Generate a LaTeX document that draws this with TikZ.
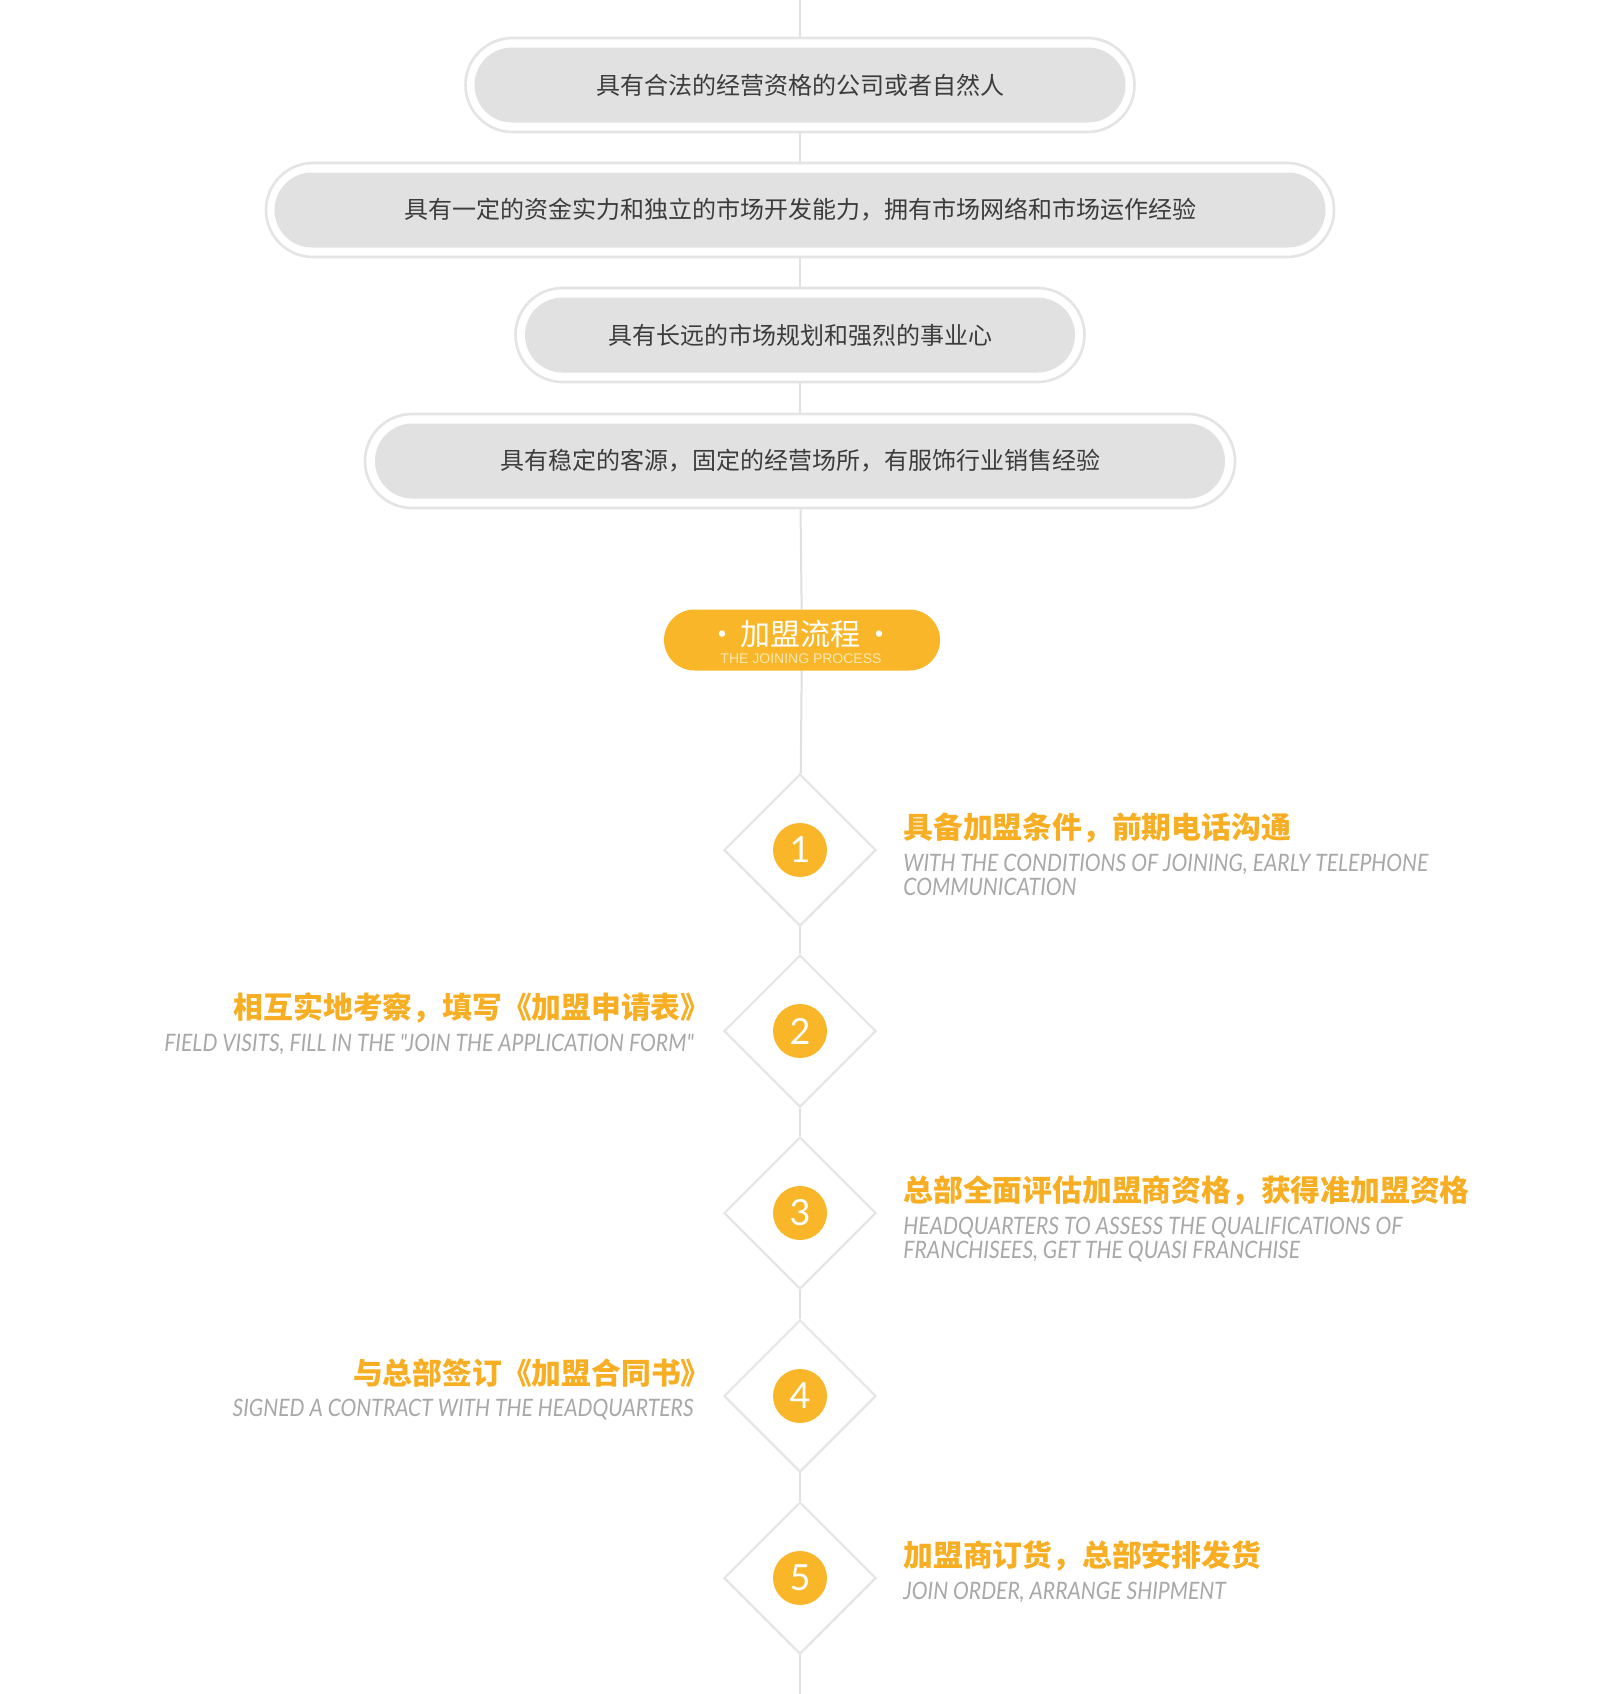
\documentclass[tikz,border=0pt]{standalone}
\usepackage{fontspec}
\setmainfont{Liberation Sans}
\newfontfamily\cjk{Noto Sans CJK SC}
\newfontfamily\enit[FakeStretch=0.88]{Lato}
\newfontfamily\numf{Lato}
\usetikzlibrary{shapes.geometric,backgrounds}
\definecolor{linegray}{HTML}{E0E0E0}
\definecolor{ringgray}{HTML}{E4E4E4}
\definecolor{pillgray}{HTML}{E1E1E1}
\definecolor{pilltext}{HTML}{3C3C3C}
\definecolor{orangefill}{HTML}{F9B628}
\definecolor{orangetext}{HTML}{F7AE22}
\definecolor{subgray}{HTML}{A8A8A8}
\definecolor{palesub}{HTML}{FDE8B4}
\begin{document}
\begin{tikzpicture}[x=0.5pt,y=-0.5pt,
  spine/.style={draw=linegray, line width=1pt},
  outerpill/.style={draw=ringgray, line width=1.3pt, fill=white, rounded corners=23.5pt, minimum height=47pt, inner sep=0pt},
  innerpill/.style={fill=pillgray, rounded corners=18.75pt, minimum height=37.5pt, inner sep=0pt, text=pilltext, font=\cjk\fontsize{12}{14}\selectfont},
  joinpill/.style={fill=orangefill, rounded corners=15.25pt, minimum height=30.5pt, minimum width=138pt, inner sep=0pt},
  stepdiamond/.style={diamond, draw=ringgray, line width=1pt, fill=white, minimum width=76pt, minimum height=76pt, inner sep=0pt},
  stepcircle/.style={circle, fill=orangefill, minimum size=27pt, inner sep=0pt, text=white, font=\numf\fontsize{18}{18}\selectfont},
  steptitle/.style={inner sep=0pt, text=orangetext, font=\cjk\bfseries\fontsize{14.9}{16}\selectfont},
  stepsub/.style={inner sep=0pt, text=subgray, font=\enit\itshape\fontsize{12}{12}\selectfont},
]
\begin{pgfonlayer}{background}
\fill[white] (0,0) rectangle (1600,1694);
\end{pgfonlayer}
\useasboundingbox (0,0) rectangle (1600,1694);

% requirement pills
\node[outerpill, minimum width=334.5pt] (p1) at (800,85) {};
\node[innerpill, minimum width=325.5pt] (q1) at (800,85) {具有合法的经营资格的公司或者自然人};
\node[outerpill, minimum width=534pt] (p2) at (800,210) {};
\node[innerpill, minimum width=525.5pt] (q2) at (800,210) {具有一定的资金实力和独立的市场开发能力，拥有市场网络和市场运作经验};
\node[outerpill, minimum width=284.5pt] (p3) at (800,335) {};
\node[innerpill, minimum width=275pt] (q3) at (800,335) {具有长远的市场规划和强烈的事业心};
\node[outerpill, minimum width=435pt] (p4) at (800,461) {};
\node[innerpill, minimum width=425pt] (q4) at (800,461) {具有稳定的客源，固定的经营场所，有服饰行业销售经验};

% joining process header
\node[joinpill] (join) at (802,640) {};
\node[inner sep=0pt, text=white, font=\cjk\fontsize{15}{16}\selectfont] (jt) at (801,634) {\textbullet\kern2pt 加盟流程\kern2pt\textbullet};
\node[inner sep=0pt, text=palesub, font=\fontsize{7}{8}\selectfont] (js) at (801,659) {THE JOINING PROCESS};

% steps
\foreach \i/\yy in {1/850,2/1031,3/1213,4/1396,5/1578}{
  \node[stepdiamond] (d\i) at (800,\yy) {};
  \node[stepcircle] (c\i) at (800,\yy) {\i};
}

\node[steptitle, anchor=west] (t1) at (903,828) {具备加盟条件，前期电话沟通};
\node[stepsub, anchor=north west, align=left] (s1) at (903,854) {WITH THE CONDITIONS OF JOINING, EARLY TELEPHONE\\COMMUNICATION};

\node[steptitle, anchor=east] (t2) at (711,1008) {相互实地考察，填写《加盟申请表》};
\node[stepsub, anchor=north east, align=right] (s2) at (694,1034) {FIELD VISITS, FILL IN THE "JOIN THE APPLICATION FORM"};

\node[steptitle, anchor=west] (t3) at (903,1191) {总部全面评估加盟商资格，获得准加盟资格};
\node[stepsub, anchor=north west, align=left] (s3) at (903,1217) {HEADQUARTERS TO ASSESS THE QUALIFICATIONS OF\\FRANCHISEES, GET THE QUASI FRANCHISE};

\node[steptitle, anchor=east] (t4) at (711,1373) {与总部签订《加盟合同书》};
\node[stepsub, anchor=north east, align=right] (s4) at (694,1399) {SIGNED A CONTRACT WITH THE HEADQUARTERS};

\node[steptitle, anchor=west] (t5) at (903,1556) {加盟商订货，总部安排发货};
\node[stepsub, anchor=north west, align=left] (s5) at (903,1582) {JOIN ORDER, ARRANGE SHIPMENT};

% spine connectors
\coordinate (top) at (800,0);
\coordinate (bot) at (800,1694);
\begin{pgfonlayer}{background}
\draw[spine] (top) -- (p1);
\draw[spine] (p1) -- (p2);
\draw[spine] (p2) -- (p3);
\draw[spine] (p3) -- (p4);
\draw[spine] (p4) -- (join);
\draw[spine] (join) -- (d1);
\draw[spine] (d1) -- (d2);
\draw[spine] (d2) -- (d3);
\draw[spine] (d3) -- (d4);
\draw[spine] (d4) -- (d5);
\draw[spine] (d5) -- (bot);
\end{pgfonlayer}
\end{tikzpicture}
\end{document}
